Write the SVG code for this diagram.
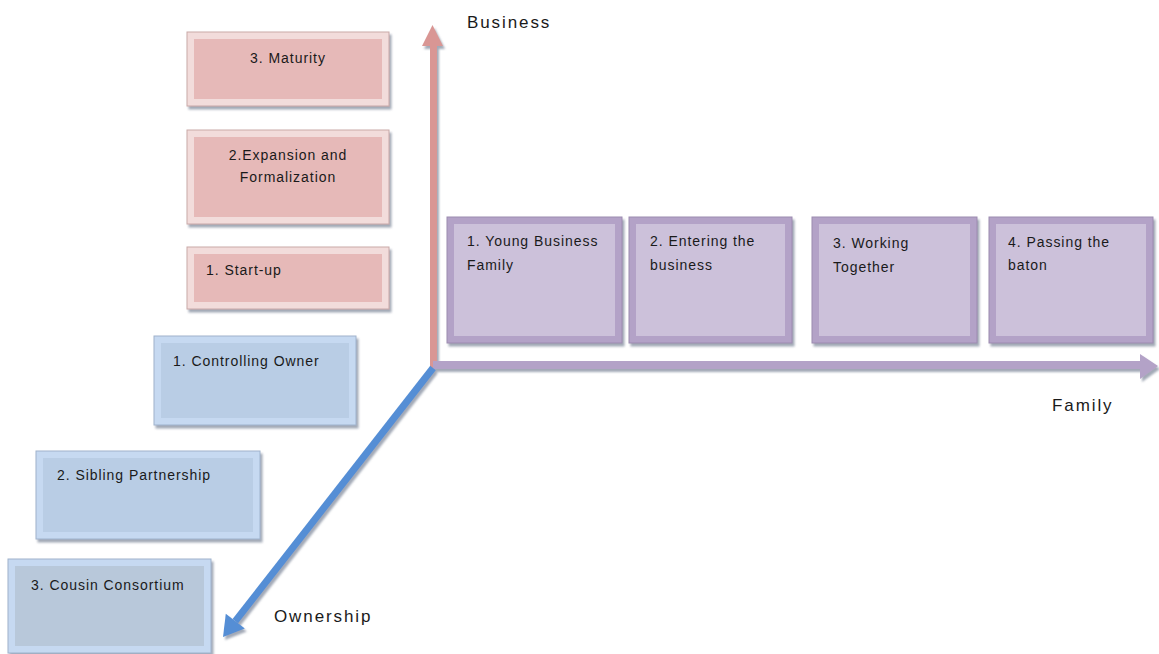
<svg xmlns="http://www.w3.org/2000/svg" width="1159" height="654" viewBox="0 0 1159 654">
  <defs>
    <filter id="shadow" x="-10%" y="-10%" width="125%" height="130%">
      <feDropShadow dx="2" dy="3" stdDeviation="1" flood-color="#6f7b90" flood-opacity="0.65"/>
    </filter>
    <style>
      .lbl { font-family: "Liberation Sans", Arial, sans-serif; font-size: 14px; fill: #1a1a1a; letter-spacing: 0.95px; }
      .axis { font-family: "Liberation Sans", Arial, sans-serif; font-size: 17px; fill: #1a1a1a; letter-spacing: 1.9px; }
      .biz-out { fill: #f2dcdb; stroke: #c9a9a8; stroke-width: 1; }
      .biz-in { fill: #e6b9b8; }
      .fam-out { fill: #b3a2c7; stroke: #9c8bb0; stroke-width: 1; }
      .fam-in { fill: #ccc1da; }
      .own-out { fill: #c6d9f1; stroke: #9fb2cc; stroke-width: 1; }
      .own-in { fill: #b9cde5; }
      .ctr { text-anchor: middle; }
    </style>
  </defs>
  <rect width="1159" height="654" fill="#ffffff"/>

  <!-- axes -->
  <g id="connectors" filter="url(#shadow)">
    <!-- business axis (up) -->
    <g id="axis-business">
      <rect x="430" y="44" width="7" height="325" fill="#d99694"/>
      <polygon points="422,46 432.5,25 443,46" fill="#d99694"/>
    </g>
    <!-- family axis (right) -->
    <g id="axis-family">
      <rect x="433" y="361" width="708" height="8" fill="#b3a2c7"/>
      <polygon points="1140,354 1158,366 1140,379" fill="#b3a2c7"/>
    </g>
    <!-- ownership axis (down-left) -->
    <g id="axis-ownership">
      <line x1="433" y1="368" x2="235.3" y2="621.2" stroke="#558ed5" stroke-width="7"/>
      <polygon points="244.8,628.6 223,637 225.8,613.8" fill="#558ed5"/>
    </g>
  </g>

  <!-- axis titles -->
  <text class="axis" x="467" y="28">Business</text>
  <text class="axis" x="1052" y="411">Family</text>
  <text class="axis" x="274" y="622">Ownership</text>

  <!-- business stages -->
  <g id="biz-maturity">
    <rect class="biz-out" x="187" y="32" width="202" height="74" filter="url(#shadow)"/>
    <rect class="biz-in" x="194" y="39" width="188" height="60"/>
    <text class="lbl ctr" x="288" y="63">3. Maturity</text>
  </g>
  <g id="biz-expansion">
    <rect class="biz-out" x="187" y="130" width="202" height="94" filter="url(#shadow)"/>
    <rect class="biz-in" x="194" y="137" width="188" height="80"/>
    <text class="lbl ctr" x="288" y="160">2.Expansion and</text>
    <text class="lbl ctr" x="288" y="182">Formalization</text>
  </g>
  <g id="biz-startup">
    <rect class="biz-out" x="187" y="247" width="202" height="62" filter="url(#shadow)"/>
    <rect class="biz-in" x="194" y="254" width="188" height="48"/>
    <text class="lbl" x="206" y="275">1. Start-up</text>
  </g>

  <!-- family stages -->
  <g id="fam-young">
    <rect class="fam-out" x="447" y="217" width="175" height="126" filter="url(#shadow)"/>
    <rect class="fam-in" x="454" y="224" width="161" height="112"/>
    <text class="lbl" x="467" y="246">1. Young Business</text>
    <text class="lbl" x="467" y="270">Family</text>
  </g>
  <g id="fam-entering">
    <rect class="fam-out" x="629" y="217" width="163" height="126" filter="url(#shadow)"/>
    <rect class="fam-in" x="636" y="224" width="149" height="112"/>
    <text class="lbl" x="650" y="246">2. Entering the</text>
    <text class="lbl" x="650" y="270">business</text>
  </g>
  <g id="fam-working">
    <rect class="fam-out" x="812" y="217" width="165" height="126" filter="url(#shadow)"/>
    <rect class="fam-in" x="819" y="224" width="151" height="112"/>
    <text class="lbl" x="833" y="248">3. Working</text>
    <text class="lbl" x="833" y="272">Together</text>
  </g>
  <g id="fam-passing">
    <rect class="fam-out" x="989" y="217" width="164" height="126" filter="url(#shadow)"/>
    <rect class="fam-in" x="996" y="224" width="150" height="112"/>
    <text class="lbl" x="1008" y="247">4. Passing the</text>
    <text class="lbl" x="1008" y="270">baton</text>
  </g>

  <!-- ownership stages -->
  <g id="own-controlling">
    <rect class="own-out" x="154" y="336" width="202" height="89" filter="url(#shadow)"/>
    <rect class="own-in" x="161" y="343" width="188" height="75"/>
    <text class="lbl" x="173" y="366">1. Controlling Owner</text>
  </g>
  <g id="own-sibling">
    <rect class="own-out" x="36" y="451" width="224" height="88" filter="url(#shadow)"/>
    <rect class="own-in" x="43" y="458" width="210" height="74"/>
    <text class="lbl" x="57" y="480">2. Sibling Partnership</text>
  </g>
  <g id="own-cousin">
    <rect class="own-out" x="8" y="559" width="203" height="94" filter="url(#shadow)"/>
    <rect x="15" y="566" width="189" height="80" fill="#b8c8da"/>
    <text class="lbl" x="31" y="590">3. Cousin Consortium</text>
  </g>
</svg>
